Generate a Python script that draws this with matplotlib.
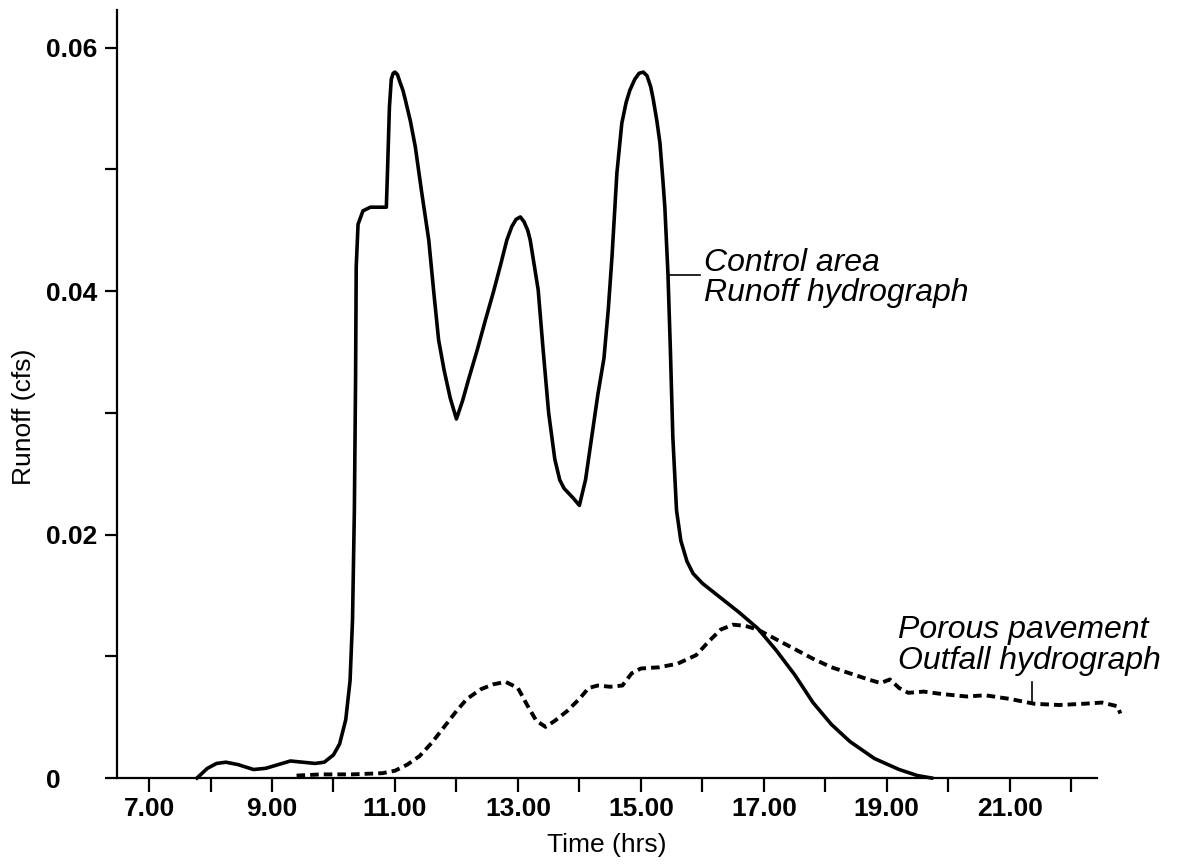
#%% importing modules
import numpy as np
import matplotlib
matplotlib.use('Agg')
import matplotlib.pyplot as plt

plt.rcParams['font.family'] = ['Liberation Sans', 'DejaVu Sans']

#%% data read off the hydrograph (time in hrs, runoff in cfs)
control_time = [7.78, 7.95, 8.1, 8.25, 8.45, 8.7, 8.9, 9.1, 9.3, 9.5, 9.7, 9.85,
                10.0, 10.1, 10.2, 10.27, 10.31, 10.34, 10.36, 10.37, 10.40, 10.48,
                10.6, 10.86, 10.88, 10.91, 10.94, 10.97, 11.0, 11.04, 11.08, 11.13,
                11.17, 11.25, 11.33, 11.43, 11.55, 11.63, 11.71, 11.8, 11.9, 12.0,
                12.1, 12.2, 12.34, 12.47, 12.6, 12.72, 12.82, 12.9, 12.97, 13.04,
                13.1, 13.16, 13.2, 13.27, 13.33, 13.41, 13.5, 13.6, 13.68, 13.75,
                13.9, 14.0, 14.1, 14.2, 14.3, 14.4, 14.47, 14.53, 14.61, 14.69,
                14.76, 14.82, 14.9, 14.97, 15.04, 15.1, 15.16, 15.2, 15.26, 15.31,
                15.36, 15.39, 15.44, 15.48, 15.52, 15.58, 15.65, 15.75, 15.85, 16.0,
                16.3, 16.6, 16.9, 17.2, 17.5, 17.8, 18.1, 18.4, 18.8, 19.2, 19.5, 19.73]
control_runoff = [0.0, 0.0008, 0.0012, 0.0013, 0.0011, 0.0007, 0.0008, 0.0011, 0.0014,
                  0.0013, 0.0012, 0.0013, 0.0019, 0.0028, 0.0048, 0.008, 0.013, 0.022,
                  0.033, 0.042, 0.0455, 0.0466, 0.0469, 0.0469, 0.050, 0.0551, 0.0574,
                  0.0579, 0.058, 0.0578, 0.0572, 0.0565, 0.0557, 0.054, 0.0519, 0.0483,
                  0.0442, 0.040, 0.036, 0.0335, 0.0312, 0.0295, 0.031, 0.0328, 0.0352,
                  0.0376, 0.0399, 0.0422, 0.0442, 0.0453, 0.0459, 0.0461, 0.0457, 0.045,
                  0.0442, 0.042, 0.0401, 0.0352, 0.030, 0.0262, 0.0245, 0.0238, 0.023,
                  0.0224, 0.0245, 0.028, 0.0315, 0.0345, 0.0385, 0.0428, 0.0497, 0.0538,
                  0.0555, 0.0565, 0.0574, 0.0579, 0.058, 0.0577, 0.0568, 0.0558, 0.054,
                  0.0522, 0.049, 0.0469, 0.0415, 0.0352, 0.028, 0.022, 0.0195, 0.0178,
                  0.0168, 0.016, 0.0148, 0.0136, 0.0123, 0.0105, 0.0085, 0.0062, 0.0044,
                  0.003, 0.0016, 0.0007, 0.0002, 0.0]

porous_time = [9.4, 9.8, 10.3, 10.8, 11.0, 11.2, 11.4, 11.6, 11.8, 12.0, 12.17, 12.4,
               12.6, 12.8, 13.0, 13.15, 13.3, 13.45, 13.6, 13.8, 14.0, 14.15, 14.3, 14.5,
               14.7, 14.85, 15.0, 15.3, 15.6, 15.9, 16.1, 16.3, 16.5, 16.7, 16.9, 17.2,
               17.5, 17.8, 18.1, 18.4, 18.7, 18.9, 19.05, 19.2, 19.35, 19.6, 19.9, 20.3,
               20.6, 21.0, 21.4, 21.8, 22.2, 22.5, 22.75, 22.8]
porous_runoff = [0.0002, 0.0003, 0.0003, 0.0004, 0.0006, 0.0011, 0.0018, 0.0029, 0.0042,
                 0.0055, 0.0065, 0.0073, 0.0077, 0.0079, 0.0074, 0.006, 0.0047, 0.0042,
                 0.0047, 0.0055, 0.0065, 0.0074, 0.0076, 0.0075, 0.0076, 0.0086, 0.009,
                 0.0091, 0.0094, 0.0101, 0.0112, 0.0122, 0.0126, 0.0125, 0.0122, 0.0114,
                 0.0106, 0.0098, 0.0091, 0.0086, 0.0081, 0.0078, 0.0081, 0.0074, 0.007,
                 0.0071, 0.0069, 0.0067, 0.0068, 0.0065, 0.0061, 0.006, 0.0061, 0.0062,
                 0.0059, 0.0053]

x_major = [7, 9, 11, 13, 15, 17, 19, 21]
x_labels = ['7.00', '9.00', '11.00', '13.00', '15.00', '17.00', '19.00', '21.00']
x_minor = [8, 10, 12, 14, 16, 18, 20, 22]
y_major = [0, 0.02, 0.04, 0.06]
y_labels = ['0', '0.02', '0.04', '0.06']
y_minor = [0.01, 0.03, 0.05]

#%% figure
fig = plt.figure(figsize=(11.8, 8.64), dpi=100)
ax = fig.add_axes([0.0992, 0.0995, 0.8305, 0.8889])

ax.plot(control_time, control_runoff, color='black', lw=2.6,
        solid_joinstyle='round', clip_on=False)
ax.plot(porous_time, porous_runoff, color='black', lw=2.8,
        linestyle=(0, (2.2, 1.3)), clip_on=False)

ax.set_xlim(6.48, 22.42)
ax.set_ylim(0, 0.0631)

# spines
for side in ['top', 'right']:
    ax.spines[side].set_visible(False)
for side in ['left', 'bottom']:
    ax.spines[side].set_linewidth(1.6)

# ticks
ax.set_xticks(x_major)
ax.set_xticklabels(x_labels, fontsize=19, fontweight='bold')
ax.set_xticks(x_minor, minor=True)
ax.set_yticks(y_major)
ax.set_yticklabels(y_labels, fontsize=19, fontweight='bold', ha='left')
ax.set_yticks(y_minor, minor=True)
ax.tick_params(axis='x', which='both', direction='out', length=10, width=1.6, pad=4)
ax.tick_params(axis='y', which='both', direction='out', length=8.6, width=1.6, pad=42.5)

# axis labels
ax.set_xlabel('Time (hrs)', fontsize=19, labelpad=8)
ax.set_ylabel('Runoff (cfs)', fontsize=19)
ax.yaxis.set_label_coords(-0.083, 0.47)

# annotations
ax.plot([15.44, 15.96], [0.0413, 0.0413], color='black', lw=1.2)
ax.text(16.03, 0.0411, 'Control area\nRunoff hydrograph', fontsize=23,
        style='italic', ha='left', va='center', linespacing=1.02)
ax.plot([21.36, 21.36], [0.0062, 0.0079], color='black', lw=1.2)
ax.text(19.18, 0.0109, 'Porous pavement\nOutfall hydrograph', fontsize=23,
        style='italic', ha='left', va='center', linespacing=1.02)

fig.savefig('out.png', dpi=100)
